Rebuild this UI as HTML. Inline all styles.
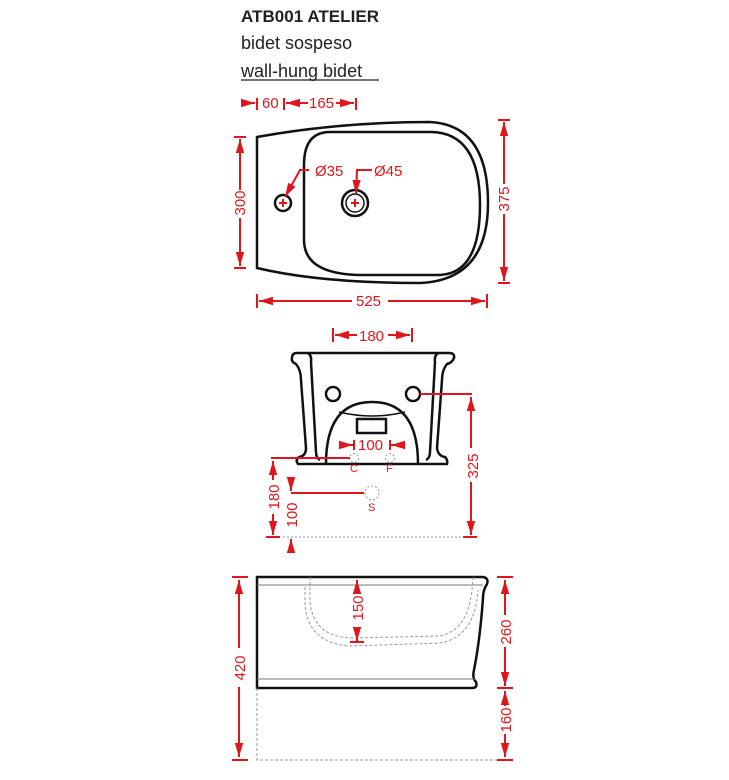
<!DOCTYPE html>
<html><head><style>
body{margin:0;background:#fff;width:729px;height:780px;overflow:hidden}
svg{position:absolute;left:0;top:0}
</style></head><body>
<svg width="729" height="780" viewBox="0 0 729 780" font-family="Liberation Sans, sans-serif">
<defs>
<marker id="a" viewBox="0 0 10 10" refX="10" refY="5" markerWidth="7" markerHeight="7" orient="auto-start-reverse"><path d="M0,2 L10,5 L0,8z" fill="#e0161d"/></marker>
</defs>
<text x="241" y="22" font-size="17" font-weight="bold" fill="#222" textLength="138">ATB001 ATELIER</text>
<text x="241" y="49" font-size="18" fill="#222">bidet sospeso</text>
<text x="241" y="77" font-size="18" fill="#222">wall-hung bidet</text>
<line x1="241" y1="80" x2="379" y2="80" stroke="#222" stroke-width="1.3"/>

<g fill="none" stroke="#111" stroke-width="2.5">
<path d="M257,137 L257,268 Q320,283 420,283 Q488,280 488,203 Q488,125 430,122 Q340,122 257,137Z"/>
<path d="M330,132 Q304,132 304,165 L304,240 Q304,274 360,275 L440,275 Q480,273 480,205 Q480,132 430,132Z"/>
<circle cx="283" cy="203" r="8"/>
<circle cx="355" cy="203" r="13"/>
<circle cx="355" cy="203" r="9" stroke-width="1.5"/>
</g>
<g stroke="#e0161d" stroke-width="2" fill="none">
<path d="M283,199 v8 M279,203 h8 M355,199 v8 M351,203 h8"/>
<path d="M309,170 L300,170 L285,197" marker-end="url(#a)"/>
<path d="M372,170 L357,170 L356,194" marker-end="url(#a)"/>
<line x1="240" y1="139" x2="240" y2="190" marker-start="url(#a)"/><line x1="240" y1="218" x2="240" y2="266" marker-end="url(#a)"/>
<path d="M234,137h12 M234,268h12"/>
<line x1="504" y1="122" x2="504" y2="184" marker-start="url(#a)"/><line x1="504" y1="214" x2="504" y2="281" marker-end="url(#a)"/>
<path d="M498,120h12 M498,283h12"/>
<line x1="259" y1="301" x2="352" y2="301" marker-start="url(#a)"/><line x1="388" y1="301" x2="485" y2="301" marker-end="url(#a)"/>
<path d="M257,294v14 M487,294v14"/>
<line x1="243" y1="103" x2="255" y2="103" marker-end="url(#a)"/><line x1="286" y1="103" x2="308" y2="103" marker-start="url(#a)"/><line x1="336" y1="103" x2="354" y2="103" marker-end="url(#a)"/>
<path d="M257,98v12 M284,98v12 M356,98v12"/>
</g>
<g fill="#e0161d" font-size="15">
<text x="262" y="108">60</text><text x="309" y="108">165</text>
<text x="315" y="176">Ø35</text><text x="374" y="176">Ø45</text>
<text x="356" y="306">525</text>
<text transform="translate(245,203) rotate(-90)" text-anchor="middle">300</text>
<text transform="translate(509,199) rotate(-90)" text-anchor="middle">375</text>
</g>

<!-- front -->
<g fill="none" stroke="#111" stroke-width="2.5">
<path d="M297,353 L449,353 Q455,353 454,358 Q452,363 447,364 Q442,370 442,380 L437,448 Q438,456 445,457 Q448,460 447,464 L298,464 Q295,460 299,457 Q306,456 306,448 L301,380 Q301,370 296,364 Q291,362 292,358 Q292,353 297,353Z"/>
<path d="M308,353 Q312,356 311,362 L316,452 Q316,458 320,460 M438,353 Q434,356 435,362 L430,452 Q430,458 426,460"/>
<path d="M326,464 Q326,402 372,402 Q418,402 418,464"/>
<path d="M339,412 Q372,420 405,412" stroke-width="1.5"/>
<rect x="357" y="419" width="29" height="14"/>
<circle cx="333" cy="394" r="7"/><circle cx="413" cy="394" r="7"/>
</g>
<g fill="none" stroke="#999" stroke-width="1" stroke-dasharray="2,2">
<circle cx="354" cy="458" r="4.5"/><circle cx="390" cy="458" r="4.5"/><circle cx="372" cy="493" r="7"/>
<line x1="283" y1="537" x2="462" y2="537"/>
</g>
<g stroke="#e0161d" stroke-width="2" fill="none">
<line x1="335" y1="335" x2="357" y2="335" marker-start="url(#a)"/><line x1="388" y1="335" x2="410" y2="335" marker-end="url(#a)"/>
<path d="M333,328v14 M412,328v14"/>
<line x1="342" y1="445" x2="353" y2="445" marker-end="url(#a)"/><line x1="391" y1="445" x2="403" y2="445" marker-start="url(#a)"/>
<path d="M354,440v10 M390,440v10"/>
<path d="M420,394 L472,394"/>
<line x1="471" y1="397" x2="471" y2="448" marker-start="url(#a)"/><line x1="471" y1="482" x2="471" y2="535" marker-end="url(#a)"/>
<path d="M463,537h14"/>
<path d="M271,458 L350,458"/>
<line x1="273" y1="461" x2="273" y2="480" marker-start="url(#a)"/><line x1="273" y1="514" x2="273" y2="535" marker-end="url(#a)"/>
<path d="M266,537h14"/>
<path d="M291,493 L364,493"/>
<line x1="291" y1="481" x2="291" y2="491" marker-end="url(#a)"/><line x1="291" y1="549" x2="291" y2="539" marker-end="url(#a)"/>
</g>
<g fill="#e0161d" font-size="15">
<text x="359" y="341">180</text><text x="358" y="450">100</text>
<text x="350" y="472" font-size="11">C</text><text x="386" y="472" font-size="11">F</text><text x="368" y="511" font-size="11">S</text>
<text transform="translate(478,466) rotate(-90)" text-anchor="middle">325</text>
<text transform="translate(279,497) rotate(-90)" text-anchor="middle">180</text>
<text transform="translate(297,515) rotate(-90)" text-anchor="middle">100</text>
</g>

<!-- side -->
<g fill="none" stroke="#111">
<path d="M257,577 L483,577 Q489,578 487,584 Q483,590 483,598 Q480,640 474,670 Q472,678 476,682 Q478,688 472,688 L257,688Z" stroke-width="2.5"/>
<path d="M257,585 L483,585 M257,679 L475,679" stroke="#777" stroke-width="1"/>
</g>
<g fill="none" stroke="#999" stroke-width="1" stroke-dasharray="3,2">
<path d="M310,577 L310,600 Q312,636 350,638 L440,636 Q468,630 472,590 L473,577"/>
<path d="M305,587 L305,605 Q308,643 350,646 L440,643 Q475,637 478,590"/>
<path d="M257,688 L257,760 L502,760"/>
</g>
<g stroke="#e0161d" stroke-width="2" fill="none">
<path d="M232,577h16 M232,760h16 M497,577h16 M497,688h16 M497,760h16"/>
<line x1="239" y1="580" x2="239" y2="648" marker-start="url(#a)"/><line x1="239" y1="687" x2="239" y2="757" marker-end="url(#a)"/>
<line x1="505" y1="580" x2="505" y2="615" marker-start="url(#a)"/><line x1="505" y1="647" x2="505" y2="686" marker-end="url(#a)"/>
<line x1="505" y1="691" x2="505" y2="706" marker-start="url(#a)"/><line x1="505" y1="734" x2="505" y2="757" marker-end="url(#a)"/>
<line x1="357" y1="580" x2="357" y2="590" marker-start="url(#a)"/><line x1="357" y1="627" x2="357" y2="641" marker-end="url(#a)"/>
<path d="M350,642h14"/>
</g>
<g fill="#e0161d" font-size="15">
<text transform="translate(245,668) rotate(-90)" text-anchor="middle">420</text>
<text transform="translate(511,632) rotate(-90)" text-anchor="middle">260</text>
<text transform="translate(511,720) rotate(-90)" text-anchor="middle">160</text>
<text transform="translate(363,608) rotate(-90)" text-anchor="middle">150</text>
</g>
</svg>
</body></html>
